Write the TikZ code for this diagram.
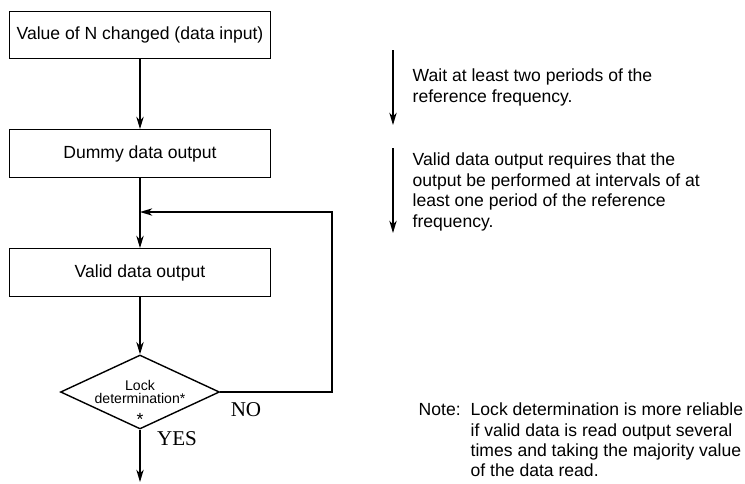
\documentclass[tikz,border=0pt]{standalone}
\usepackage{fontspec}
\setmainfont{Liberation Sans}
\newfontfamily\labelfont{Liberation Serif}
\usetikzlibrary{shapes.geometric, arrows.meta}

\tikzset{
    stepbox/.style={draw, rectangle, minimum width=5.22cm, minimum height=0.95cm,
        inner sep=0pt, font=\fontsize{10}{12}\selectfont},
    lockbox/.style={draw, diamond, shape aspect=2.15, minimum width=3.18cm,
        minimum height=1.48cm, inner sep=0pt, align=center,
        font=\fontsize{8}{7.6}\selectfont},
    remark/.style={anchor=west, inner sep=0pt, align=left,
        font=\fontsize{10}{11.6}\selectfont},
    branch/.style={font=\labelfont\fontsize{12}{14}\selectfont},
}

\begin{document}
\begin{tikzpicture}[>={Stealth[length=7pt, width=4.2pt, inset=2.2pt]}, thick, x=0.02cm, y=-0.02cm]
    \useasboundingbox (0,0) rectangle (745,484);
    \def\X{140}
    \def\R{393}
    % Flow
    \node[stepbox] (input) at (\X,35) {Value of N changed (data input)};
    \node[stepbox] (dummy) at (\X,153.5) {Dummy data output};
    \node[stepbox] (valid) at (\X,272.5) {Valid data output};
    \node[lockbox] (lock) at (\X,392) {Lock\\determination*};
    \node[font=\fontsize{10}{12}\selectfont] (star) at (\X,419) {*};
    \coordinate (join) at (\X,212);
    \coordinate (back) at (332,212);
    \coordinate (exit) at (\X,482);

    \draw[->] (input) -- (dummy);
    \draw[->] (dummy) -- (valid);
    \draw[->] (valid) -- (lock);
    \draw[->] (lock.east) -| (back) -- (join);
    \draw[->] (lock.south) -- (exit);
    \node[branch] (no) at (246,410) {NO};
    \node[branch] (yes) at (177,439) {YES};

    % Timing remarks
    \coordinate (wait top) at (\R,50);
    \coordinate (wait end) at (\R,125);
    \coordinate (out top) at (\R,148);
    \coordinate (out end) at (\R,233);
    \draw[->] (wait top) -- (wait end);
    \draw[->] (out top) -- (out end);
    \node[remark] (wait) at (412,87.5) {Wait at least two periods of the\\reference frequency.};
    \node[remark] (out) at (412,192) {Valid data output requires that the\\output be performed at intervals of at\\least one period of the reference\\frequency.};

    % Note
    \node[remark] (note) at (418,410) {Note:};
    \node[remark] (notetext) at (470,440) {Lock determination is more reliable\\if valid data is read output several\\times and taking the majority value\\of the data read.};
\end{tikzpicture}
\end{document}
